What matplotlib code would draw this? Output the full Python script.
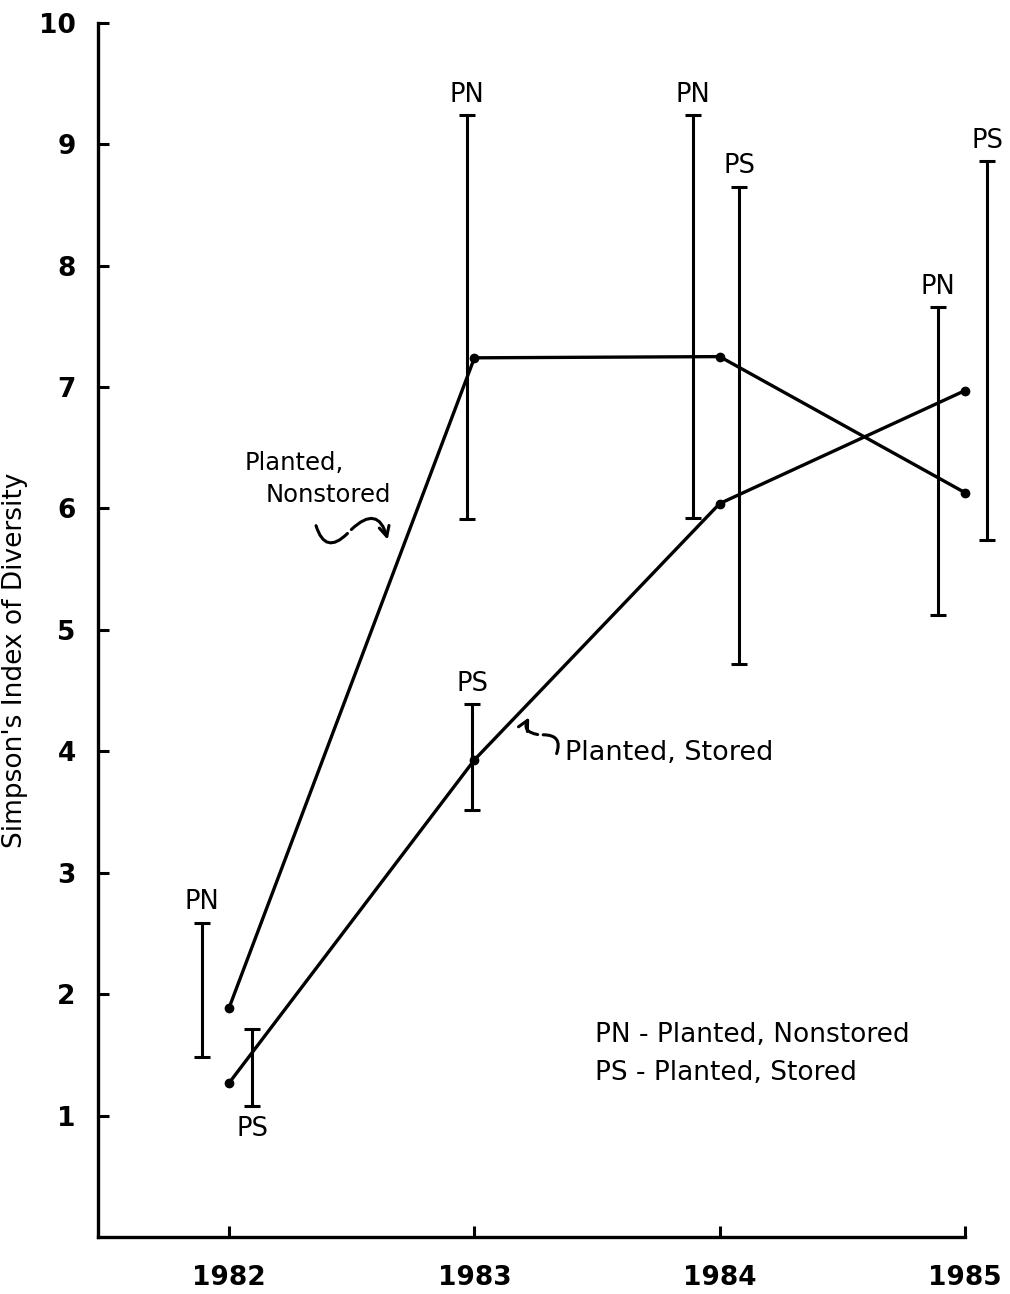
import numpy as np
import matplotlib.pyplot as plt

# Données
years = [1982, 1983, 1984, 1985]
pn_mean = [1.89, 7.24, 7.25, 6.13]   # Planted, Nonstored
ps_mean = [1.27, 3.93, 6.04, 6.97]   # Planted, Stored

# barres d'erreur (bas, haut) et décalage horizontal de chaque barre
pn_low = [1.48, 5.91, 5.92, 5.12]
pn_high = [2.59, 9.24, 9.24, 7.66]
pn_shift = [-0.11, -0.03, -0.11, -0.11]
ps_low = [1.08, 3.52, 4.72, 5.74]
ps_high = [1.71, 4.39, 8.65, 8.86]
ps_shift = [0.095, -0.01, 0.08, 0.09]

ytick_vals = [1, 2, 3, 4, 5, 6, 7, 8, 9, 10]
ytick_labels = ["1", "2", "3", "4", "5", "6", "7", "8", "9", "10"]
xtick_labels = ["1982", "1983", "1984", "1985"]

plt.rcParams['font.family'] = ['DejaVu Sans']

fig = plt.figure(figsize=(10.1, 12.94), dpi=100)
ax = fig.add_axes([0.097, 0.044, 0.9554 - 0.097, 0.9825 - 0.044])

lw = 2.4
ax.plot(years, pn_mean, color='black', lw=lw, marker='o', ms=6, clip_on=False)
ax.plot(years, ps_mean, color='black', lw=lw, marker='o', ms=6, clip_on=False)

# Barres d'erreur
def draw_bars(low, high, shift, label, below_first=False):
    for i, yr in enumerate(years):
        x = yr + shift[i]
        mid = (low[i] + high[i]) / 2
        ax.errorbar([x], [mid], yerr=[[mid - low[i]], [high[i] - mid]], fmt='none',
                    ecolor='black', elinewidth=2.2, capsize=6, capthick=2.2, clip_on=False)
        if below_first and i == 0:
            ax.text(x, low[i] - 0.08, label, ha='center', va='top', fontsize=18.5)
        else:
            ax.text(x, high[i] + 0.06, label, ha='center', va='bottom', fontsize=18.5)

draw_bars(pn_low, pn_high, pn_shift, "PN")
draw_bars(ps_low, ps_high, ps_shift, "PS", below_first=True)

# flèche ondulée : deux arcs enchaînés
def squiggle(p0, pm, p1, rad):
    ax.annotate("", xy=pm, xytext=p0,
                arrowprops=dict(arrowstyle='-', lw=2.2, color='black',
                                connectionstyle=f'arc3,rad={rad}'))
    ax.annotate("", xy=p1, xytext=pm,
                arrowprops=dict(arrowstyle='->', lw=2.2, color='black',
                                connectionstyle=f'arc3,rad={-rad}', mutation_scale=18))

# Annotations
ax.text(1982.065, 6.375, "Planted,", ha='left', va='center', fontsize=17.5)
ax.text(1982.147, 6.11, "Nonstored", ha='left', va='center', fontsize=17.5)
squiggle((1982.351, 5.88), (1982.49, 5.81), (1982.649, 5.72), 0.9)

ax.text(1983.371, 3.99, "Planted, Stored", ha='left', va='center', fontsize=19.5)
squiggle((1983.331, 3.96), (1983.269, 4.135), (1983.229, 4.30), 0.8)

ax.text(1983.49, 1.66, "PN - Planted, Nonstored", ha='left', va='center', fontsize=19)
ax.text(1983.49, 1.35, "PS - Planted, Stored", ha='left', va='center', fontsize=19)

# Axes
ax.set_xlim(1981.465, 1985)
ax.set_ylim(0, 10)
ax.set_xticks(years)
ax.set_xticklabels(xtick_labels, fontsize=19, fontweight='bold')
ax.set_yticks(ytick_vals)
ax.set_yticklabels(ytick_labels, fontsize=19, fontweight='bold')
ax.tick_params(direction='in', length=8, width=2.2)
ax.tick_params(axis='x', pad=20)
ax.tick_params(axis='y', pad=16)
ax.spines['top'].set_visible(False)
ax.spines['right'].set_visible(False)
ax.spines['left'].set_linewidth(2.4)
ax.spines['bottom'].set_linewidth(2.4)
ax.set_ylabel("Simpson's Index of Diversity", fontsize=19)
ax.yaxis.set_label_coords(-0.081, 0.475)

plt.savefig("out.png", dpi=100)
